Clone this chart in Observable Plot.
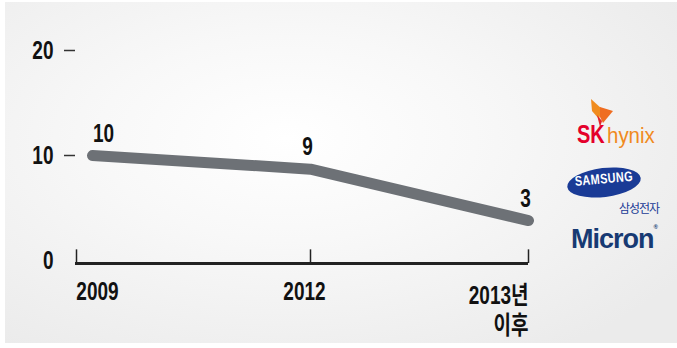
<!DOCTYPE html>
<html>
<head>
<meta charset="utf-8">
<script src="https://cdn.jsdelivr.net/npm/d3@7"></script>
<script src="https://cdn.jsdelivr.net/npm/@observablehq/plot@0.6"></script>
<style>
  html, body { margin: 0; padding: 0; background: #ffffff; }
  #wrap { position: relative; width: 677px; height: 348px; overflow: hidden; }
  #bg { position: absolute; left: 5px; top: 2px; width: 672px; height: 341px;
        background: radial-gradient(ellipse 70% 75% at 42% 40%, #ffffff 0%, #f8f8f8 40%, #ebebeb 100%); }
  #chart { position: absolute; left: 0; top: 0; }
  .logo { position: absolute; font-family: "Liberation Sans", "DejaVu Sans", sans-serif; transform-origin: left top; white-space: nowrap; }
</style>
</head>
<body>
<div id="wrap">
  <div id="bg"></div>
  <div id="chart"></div>
  <!-- logos -->
  <svg class="logo" style="left:588px;top:97px" width="26" height="32" viewBox="0 0 26 32">
    <path d="M3 2 L14 12 L11 22 L4 14 Z" fill="#f08c1e"/>
    <path d="M12 10 L25 14 L15 26 L12 20 Z" fill="#ef6d21"/>
    <path d="M9 18 L14 24 L12 30 Z" fill="#e4252b"/>
  </svg>
  <div class="logo" style="left:577px;top:120px;font-size:25px;font-weight:bold;color:#e4002b;transform:scaleX(0.8);">SK</div>
  <div class="logo" style="left:607px;top:123px;font-size:22px;color:#f08a1d;transform:scaleX(0.93);">hynix</div>
  <div class="logo" style="left:567px;top:168px;width:74px;height:29px;border-radius:50%;background:#1a3b96;transform:rotate(-7deg);transform-origin:center;"></div>
  <div class="logo" style="left:574px;top:173px;font-size:14px;font-weight:bold;color:#ffffff;letter-spacing:0.5px;transform:rotate(-5deg) scaleX(0.78);">SAMSUNG</div>
  <div class="logo" style="left:619px;top:199px;font-size:12px;font-family:'Noto Sans CJK KR';color:#1a3b96;letter-spacing:-1px;">삼성전자</div>
  <div class="logo" style="left:571px;top:224px;font-size:27px;font-weight:bold;color:#173a73;letter-spacing:-1px;">Micron<span style="font-size:6px;vertical-align:top;">®</span></div>
</div>
<script>
// ---- data ----
const categories = ["2009", "2012", "2013년\n이후"];
const lineValues = [10, 8.7, 3.8];       // positions of the drawn line
const valueLabels = ["10", "9", "3"];   // printed values
const yTicks = [0, 10, 20];
const yDashTicks = [10, 20];

const data = categories.map((c, i) => ({cat: c, v: lineValues[i], label: valueLabels[i]}));

const font = "'Liberation Sans', 'Noto Sans CJK KR', sans-serif";
const txt = {fontSize: 25, fontWeight: "bold", fill: "#111"};

const chart = Plot.plot({
  width: 677,
  height: 348,
  marginLeft: 75,
  marginRight: 149,
  marginTop: 50,
  marginBottom: 88,
  style: {background: "transparent", fontFamily: font, fontSize: "25px", color: "#111"},
  x: {type: "point", domain: categories, padding: 0, insetLeft: 16, axis: null},
  y: {domain: [0, 20], axis: null},
  marks: [
    Plot.axisY({ticks: yTicks, tickSize: 0, tickPadding: 22, label: null, ...txt}),
    Plot.axisY({ticks: yDashTicks, tickSize: 11, tickPadding: 0, label: null, tickFormat: () => "", stroke: "#333", strokeWidth: 1.5}),
    Plot.ruleY([0], {stroke: "#222", strokeWidth: 3, dy: 3}),
    Plot.ruleX(categories.slice(1), {y1: 0, y2: 1.3, dy: 3, stroke: "#222", strokeWidth: 1.5}),
    Plot.ruleX(categories.slice(0, 1), {y1: 0, y2: 1.3, dy: 3, dx: -16, stroke: "#222", strokeWidth: 1.5}),
    Plot.line(data, {x: "cat", y: "v", stroke: "#6d7176", strokeWidth: 11, strokeLinecap: "round", strokeLinejoin: "round"}),
    Plot.text(data.slice(0, 1), {x: "cat", y: "v", text: "label", dy: -22, dx: 11, ...txt}),
    Plot.text(data.slice(1), {x: "cat", y: "v", text: "label", dy: -22, dx: -3, ...txt}),
    Plot.text(data.slice(0, 1), {x: "cat", y: 0, text: "cat", lineAnchor: "top", dy: 22, dx: 5, ...txt}),
    Plot.text(data.slice(1, 2), {x: "cat", y: 0, text: "cat", lineAnchor: "top", dy: 22, dx: -6, ...txt}),
    Plot.text(data.slice(2), {x: "cat", y: 0, text: "cat", lineAnchor: "top", textAnchor: "end", dy: 22, dx: 0, lineHeight: 1.2, ...txt})
  ]
});
document.getElementById("chart").appendChild(chart);
// condense chart text horizontally (the reference uses a condensed typeface)
chart.querySelectorAll("text").forEach(t => {
  const spans = t.querySelectorAll("tspan");
  const items = spans.length ? Array.from(spans) : [t];
  items.forEach(el => {
    const w = el.getComputedTextLength();
    if (w > 0) {
      el.setAttribute("textLength", (w * 0.76).toFixed(2));
      el.setAttribute("lengthAdjust", "spacingAndGlyphs");
    }
  });
});
</script>
</body>
</html>
